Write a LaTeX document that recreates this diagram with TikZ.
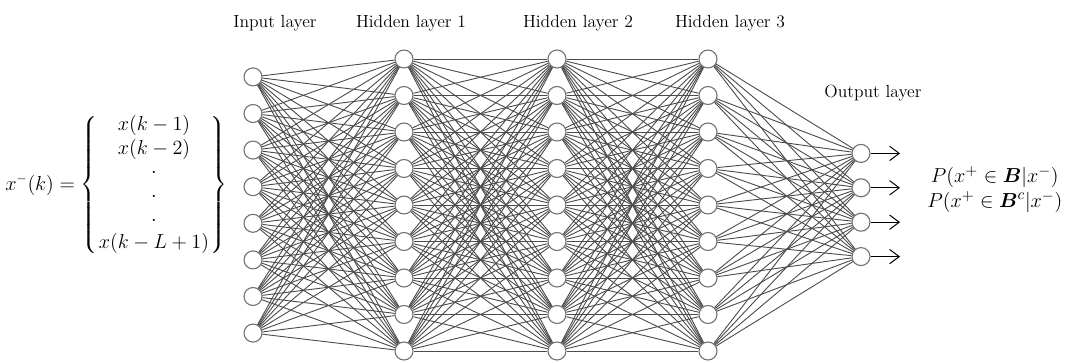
\documentclass[tikz,border=0pt]{standalone}
\usepackage{amsmath}
\usepackage{amssymb}
\usetikzlibrary{arrows.meta}

\begin{document}
\begin{tikzpicture}[xscale=1,yscale=1,
  neuron/.style={circle,draw=black!55,fill=white,line width=0.8pt,minimum size=0.45cm,inner sep=0pt},
  link/.style={black!70,line width=0.65pt},
  outarrow/.style={-{Straight Barb[length=2.4mm,width=3.6mm]},line width=0.7pt},
  layerlabel/.style={font=\fontsize{12.5}{15}\selectfont}]
  \useasboundingbox (0,0) rectangle (26.725,9.075);
  \foreach \i in {1,...,8}
    \node[neuron] (in\i) at (6.325,{3.95+(4.5-\i)*0.915}) {};
  \foreach \j in {1,...,9} {
    \node[neuron] (ha\j) at (10.1,{3.95+(5-\j)*0.9125}) {};
    \node[neuron] (hb\j) at (13.925,{3.95+(5-\j)*0.9125}) {};
    \node[neuron] (hc\j) at (17.7,{3.95+(5-\j)*0.9125}) {};
  }
  \foreach \k in {1,...,4} {
    \node[neuron] (out\k) at (21.525,{3.95+(2.5-\k)*0.86}) {};
    \coordinate (tip\k) at (22.5,{3.95+(2.5-\k)*0.86});
    \draw[outarrow] (out\k) -- (tip\k);
  }
  \foreach \i in {1,...,8}
    \foreach \j in {1,...,9}
      \draw[link] (in\i) -- (ha\j);
  \foreach \i in {1,...,9}
    \foreach \j in {1,...,9} {
      \draw[link] (ha\i) -- (hb\j);
      \draw[link] (hb\i) -- (hc\j);
    }
  \foreach \i in {1,...,9}
    \foreach \k in {1,...,4}
      \draw[link] (hc\i) -- (out\k);
  \node[layerlabel] (inlabel) at (6.875,8.5) {Input layer};
  \node[layerlabel] (halabel) at (10.275,8.5) {Hidden layer 1};
  \node[layerlabel] (hblabel) at (14.45,8.5) {Hidden layer 2};
  \node[layerlabel] (hclabel) at (18.25,8.5) {Hidden layer 3};
  \node[layerlabel] (outlabel) at (21.825,6.75) {Output layer};
  \node[font=\fontsize{13.5}{16.8}\selectfont,inner sep=0pt] (inputvec) at (2.91,4.45)
    {\setlength{\arraycolsep}{1pt}$x^-(k)=\left\{\begin{array}{c} x(k-1)\\ x(k-2)\\ \cdot\\ \cdot\\ \cdot\\ x(k-L+1)\end{array}\right\}$};
  \node[font=\fontsize{15.5}{17.8}\selectfont,align=center] (prob) at (24.87,4.34)
    {$P(x^+\in\boldsymbol{B}|x^-)$\\ $P(x^+\in\boldsymbol{B}^c|x^-)$};
\end{tikzpicture}
\end{document}
